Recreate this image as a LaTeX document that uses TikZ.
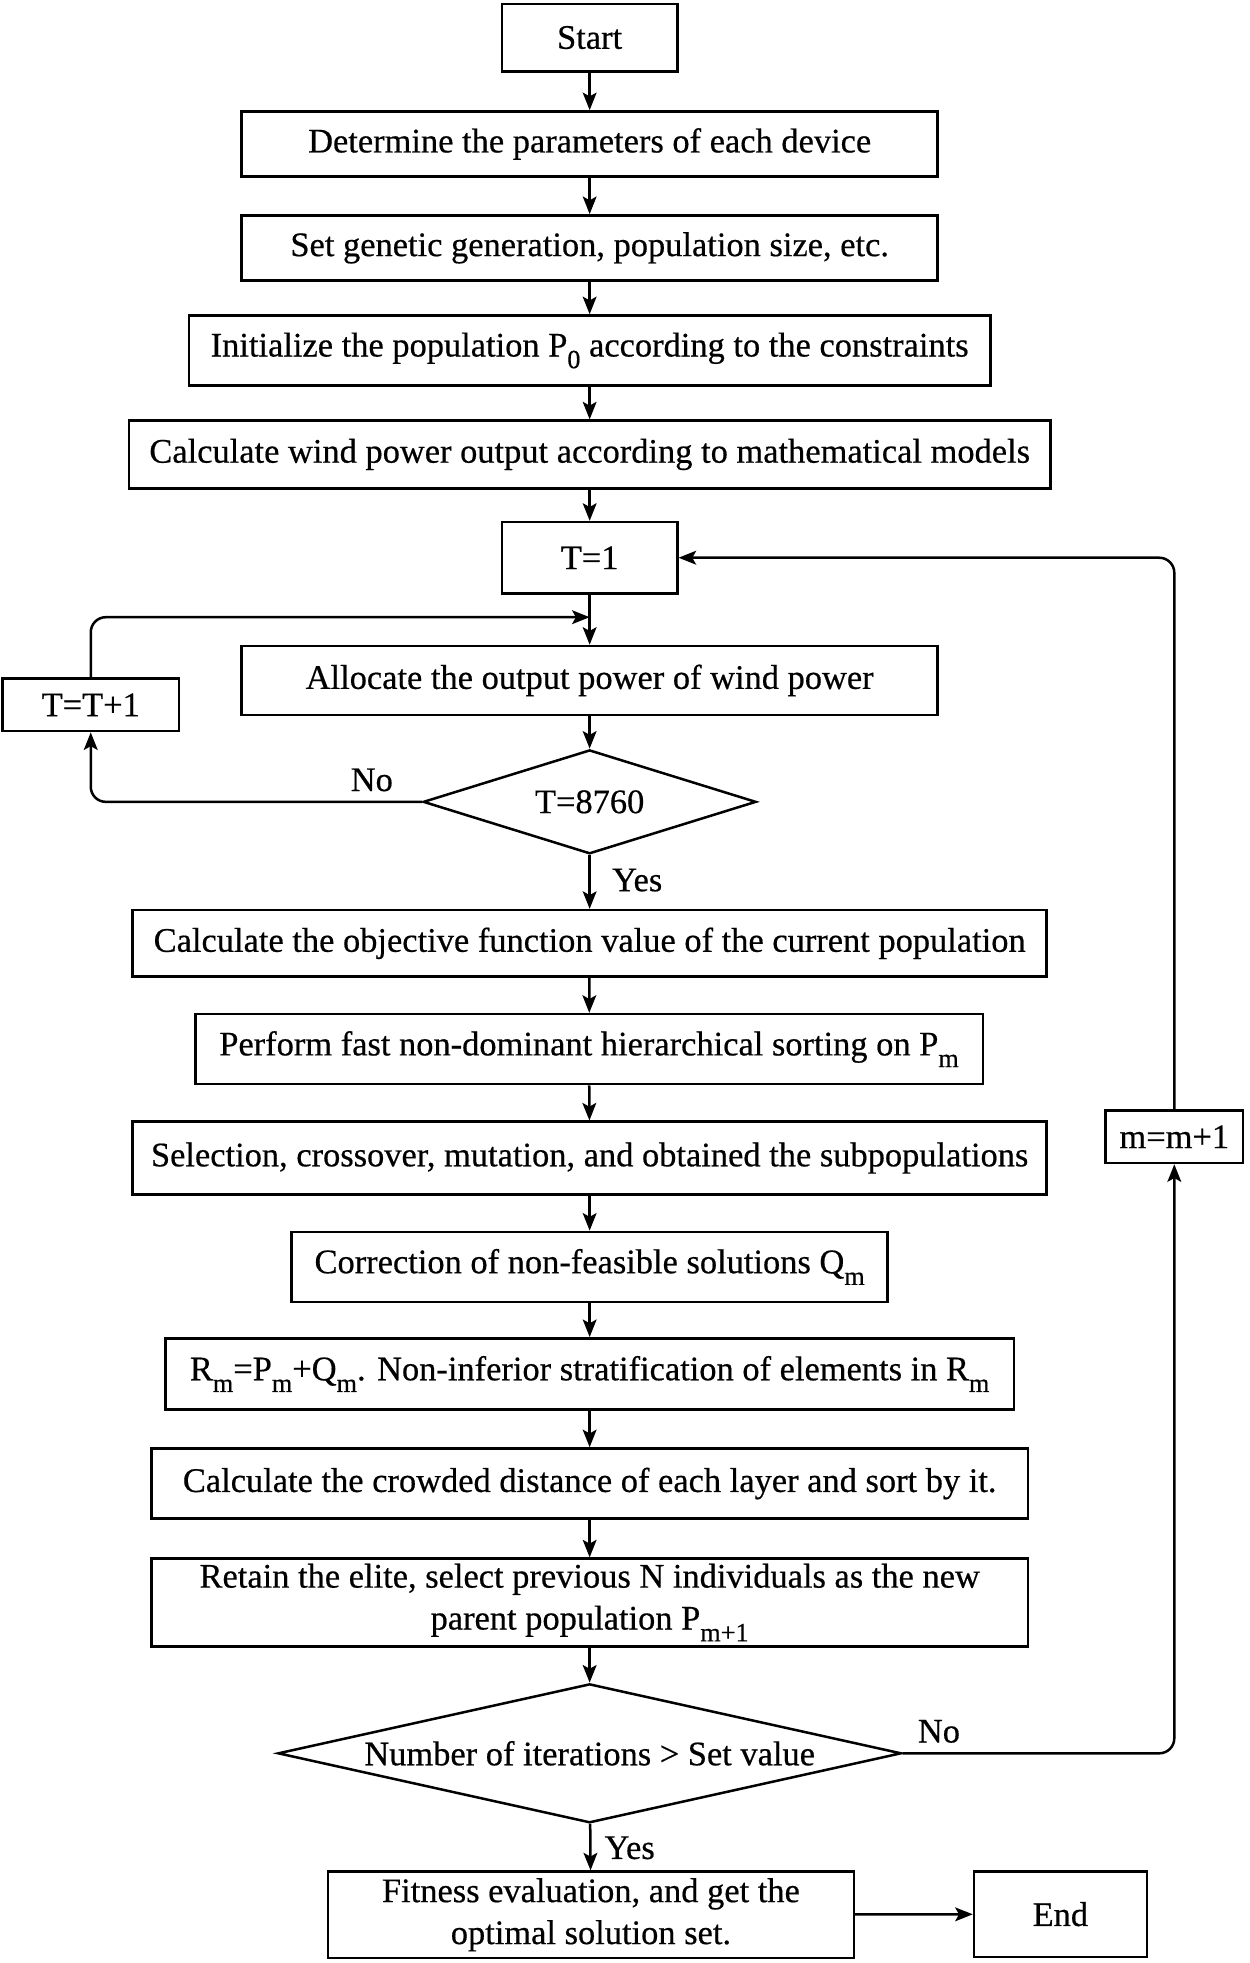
\documentclass[tikz,border=0pt]{standalone}
\usepackage{fontspec}
\setmainfont{Liberation Serif}[FakeBold=0.5]
\usetikzlibrary{shapes.geometric,arrows.meta}
\newcommand\lsub[1]{\raisebox{-0.34em}{\fontsize{21}{21}\selectfont #1}}
\tikzset{
  base/.style={font={\fontsize{27.5}{33.5}\selectfont}},
  box/.style={base, draw, line width=2pt, inner sep=0pt, align=center},
  dia/.style={base, draw, diamond, line width=2pt, inner sep=0pt, align=center},
  lbl/.style={base, inner sep=0pt},
  arr/.style={line width=2pt, -{Stealth[length=14pt,width=11pt,inset=3pt]}},
}
\begin{document}
\begin{tikzpicture}[x=1pt,y=-1pt]
\useasboundingbox (0,0) rectangle (998,1568);
\node[box, minimum width=140pt, minimum height=54pt] (start) at (471,30) {Start};
\node[box, minimum width=556pt, minimum height=52pt] (det) at (471,115) {Determine the parameters of each device};
\node[box, minimum width=556pt, minimum height=52pt] (set) at (471,198) {Set genetic generation, population size, etc.};
\node[box, minimum width=640pt, minimum height=56pt] (init) at (471,280) {Initialize the population P\lsub{0} according to the constraints};
\node[box, minimum width=736pt, minimum height=54pt] (wind) at (471,363) {Calculate wind power output according to mathematical models};
\node[box, minimum width=140pt, minimum height=57pt] (t1) at (471,445.5) {T=1};
\coordinate (j1) at (471,493);
\node[box, minimum width=556pt, minimum height=55pt] (alloc) at (471,543.5) {Allocate the output power of wind power};
\node[box, minimum width=141pt, minimum height=42pt] (tt1) at (72.5,563) {T=T+1};
\node[dia, shape aspect=3.2, minimum width=266pt, minimum height=83pt] (d1) at (471,640.5) {T=8760};
\node[box, minimum width=730pt, minimum height=53pt] (obj) at (471,753.5) {Calculate the objective function value of the current population};
\node[box, minimum width=629pt, minimum height=56pt] (perf) at (470.5,838) {Perform fast non-dominant hierarchical sorting on P\lsub{m}};
\node[box, minimum width=730pt, minimum height=58pt] (sel) at (471,925) {Selection, crossover, mutation, and obtained the subpopulations};
\node[box, minimum width=476pt, minimum height=56pt] (corr) at (471,1012) {Correction of non-feasible solutions Q\lsub{m}};
\node[box, minimum width=678pt, minimum height=57pt] (rm) at (471,1097.5) {R\lsub{m}=P\lsub{m}+Q\lsub{m}. Non-inferior stratification of elements in R\lsub{m}};
\node[box, minimum width=700pt, minimum height=56pt] (crowd) at (471,1185) {Calculate the crowded distance of each layer and sort by it.};
\node[box, minimum width=700pt, minimum height=70pt] (ret) at (471,1280) {Retain the elite, select previous N individuals as the new\\parent population P\lsub{m+1}};
\node[dia, shape aspect=4.49, minimum width=498pt, minimum height=111pt] (d2) at (471,1400.5) {Number of iterations > Set value};
\node[box, minimum width=420pt, minimum height=69pt] (fit) at (472,1529.5) {Fitness evaluation, and get the\\optimal solution set.};
\node[box, minimum width=138pt, minimum height=68pt] (end) at (847,1529) {End};
\node[box, minimum width=110pt, minimum height=42pt] (mm) at (938,908) {m=m+1};
\node[lbl] (no1) at (297,623) {No};
\node[lbl] (yes1) at (509,703) {Yes};
\node[lbl] (no2) at (750,1383) {No};
\node[lbl] (yes2) at (503,1476) {Yes};
\draw[arr] (start) -- (det);
\draw[arr] (det) -- (set);
\draw[arr] (set) -- (init);
\draw[arr] (init) -- (wind);
\draw[arr] (wind) -- (t1);
\draw[arr] (t1) -- (alloc);
\draw[arr] (alloc) -- (d1);
\draw[arr, rounded corners=12pt] (d1.west) -| (tt1.south);
\draw[arr, rounded corners=12pt] (tt1.north) |- (j1);
\draw[arr] (d1) -- (obj);
\draw[arr] (obj) -- (perf);
\draw[arr] (perf) -- (sel);
\draw[arr] (sel) -- (corr);
\draw[arr] (corr) -- (rm);
\draw[arr] (rm) -- (crowd);
\draw[arr] (crowd) -- (ret);
\draw[arr] (ret) -- (d2);
\draw[arr] (d2) -- (fit);
\draw[arr] (fit) -- (end);
\draw[arr, rounded corners=12pt] (d2.east) -| (mm.south);
\draw[arr, rounded corners=12pt] (mm.north) |- (t1.east);
\end{tikzpicture}
\end{document}
